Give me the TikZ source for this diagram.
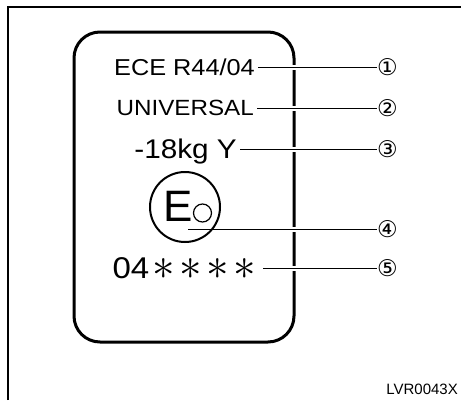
\RequirePackage{fix-cm}
\documentclass[tikz,border=0pt]{standalone}
\usepackage{graphicx}
\usepackage{fontspec}
\setmainfont{Liberation Sans}
\newfontfamily\circfont{DejaVu Sans}
\newcommand{\wide}[1]{\scalebox{1.1}[1]{#1}}
\newcommand{\bigast}{\raisebox{-0.5pt}{\scalebox{1.5}{$\ast$}}}

\begin{document}
\begin{tikzpicture}[x=1pt, y=-1pt,
    txt/.style={anchor=east, inner xsep=0pt, inner ysep=0pt, text depth=0pt},
    num/.style={anchor=west, inner sep=0pt, font=\circfont\fontsize{23}{23}\selectfont},
    leader/.style={line width=1pt, shorten <=3pt,
        preaction={draw=white, line width=5pt, shorten <=#1, shorten >=6pt}},
    leader/.default=8pt,
]
\useasboundingbox (0,0) rectangle (461,400);
\draw[line width=2pt] (8,400) -- (8,7) -- (461,7);
\draw[line width=3pt, rounded corners=26pt] (74,32) rectangle (294,342);

\node[txt, text height=16.5pt, font=\fontsize{23}{23}\selectfont] (ece) at (255,67) {\wide{ECE R44/04}};
\node[txt, text height=15.8pt, font=\fontsize{22}{22}\selectfont] (univ) at (254,108) {\wide{UNIVERSAL}};
\node[txt, text height=19.3pt, font=\fontsize{27}{27}\selectfont] (mass) at (237,149) {\wide{-18kg Y}};
\node[txt, text height=21.5pt, font=\fontsize{30}{30}\selectfont] (approval) at (256,268)
    {\wide{04}\hspace{3pt}\bigast\hspace{4.5pt}\bigast\hspace{4.5pt}\bigast\hspace{4.5pt}\bigast};

\node[circle, draw, line width=2pt, minimum size=70pt, inner sep=0pt] (emark) at (185,207) {};
\node[inner sep=0pt, font=\fontsize{44}{44}\selectfont] (eletter) at (178,206.5) {E};
\node[circle, draw, line width=1.2pt, minimum size=18pt, inner sep=0pt] (ering) at (202.5,213) {};
\coordinate (etail) at (188,229);

\node[num] (n1) at (377,67) {①};
\node[num] (n2) at (377,108) {②};
\node[num] (n3) at (377,149) {③};
\node[num] (n4) at (377,229) {④};
\node[num] (n5) at (377,268) {⑤};

\draw[leader] (ece) -- (n1);
\draw[leader] (univ) -- (n2);
\draw[leader] (mass) -- (n3);
\draw[leader=45pt, shorten <=0pt] (etail) -- (n4);
\draw[leader, shorten <=7pt] (approval) -- (n5);

\node[anchor=base east, inner sep=0pt, font=\fontsize{15}{15}\selectfont] (figid) at (458,394) {LVR0043X};
\end{tikzpicture}
\end{document}
